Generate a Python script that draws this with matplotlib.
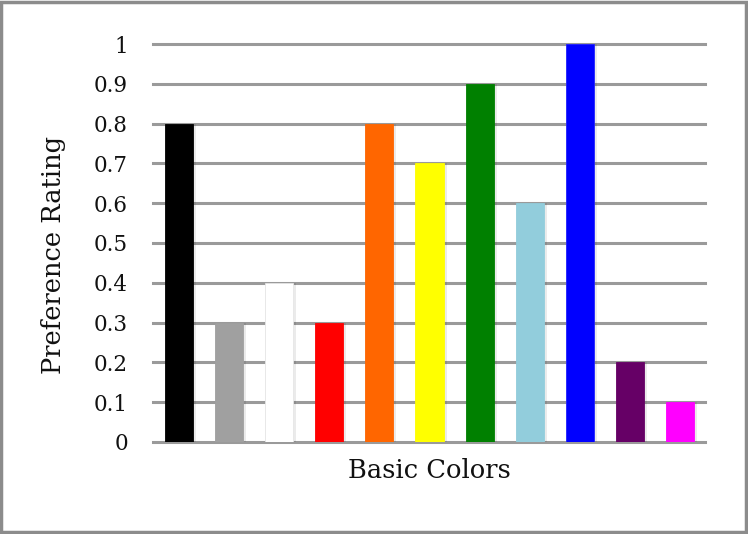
import matplotlib
matplotlib.use("Agg")
import matplotlib.pyplot as plt
from matplotlib.patches import Rectangle

categories = ["Black", "Gray", "White", "Red", "Orange", "Yellow",
              "Green", "Light Blue", "Blue", "Purple", "Magenta"]
ratings = [0.8, 0.3, 0.4, 0.3, 0.8, 0.7, 0.9, 0.6, 1.0, 0.2, 0.1]
bar_colors = ["#000000", "#a0a0a0", "#ffffff", "#ff0000", "#ff6600", "#ffff00",
              "#008000", "#92cddc", "#0000ff", "#660066", "#ff00ff"]
edge_colors = ["#000000", "#a0a0a0", "#e6e6e6", "#ff0000", "#ff6600", "#ffff00",
               "#008000", "#92cddc", "#2222ff", "#660066", "#ff00ff"]
yticks = [0, 0.1, 0.2, 0.3, 0.4, 0.5, 0.6, 0.7, 0.8, 0.9, 1.0]
ytick_labels = ["0", "0.1", "0.2", "0.3", "0.4", "0.5", "0.6", "0.7", "0.8", "0.9", "1"]

plt.rcParams['font.family'] = ['DejaVu Serif']

fig = plt.figure(figsize=(7.48, 5.34), dpi=100)
fig.patch.set_facecolor("white")
ax = fig.add_axes([0.2045, 0.1723, 0.738, 0.7453])

x = list(range(len(categories)))
# soft shadow
ax.bar([xi + 0.03 for xi in x], ratings, width=0.62, color="#000000", alpha=0.08,
       zorder=2, linewidth=0)
ax.bar(x, ratings, width=0.56, color=bar_colors, zorder=3,
       edgecolor=edge_colors, linewidth=0.6)

for t in yticks:
    ax.axhline(t, color="#9a9a9a", linewidth=2.2, zorder=1, clip_on=False)

ax.set_xlim(-0.52, 10.5)
ax.set_ylim(0, 1)
ax.set_xticks([])
ax.set_yticks(yticks)
ax.set_yticklabels(ytick_labels, fontsize=15.5, color="#111111")
ax.tick_params(axis="y", length=0, pad=18)
for s in ax.spines.values():
    s.set_visible(False)

ax.set_ylabel("Preference Rating", fontsize=18.5, color="#111111")
ax.yaxis.set_label_coords(-0.158, 0.47)
ax.set_xlabel("Basic Colors", fontsize=18.5, color="#111111")
ax.xaxis.set_label_coords(0.5, -0.04)

fig.patches.append(Rectangle((0.002, 0.003), 0.995, 0.994, transform=fig.transFigure,
                             fill=False, edgecolor="#8c8c8c", linewidth=2.5))

fig.savefig("out.png", dpi=100, facecolor="white")
